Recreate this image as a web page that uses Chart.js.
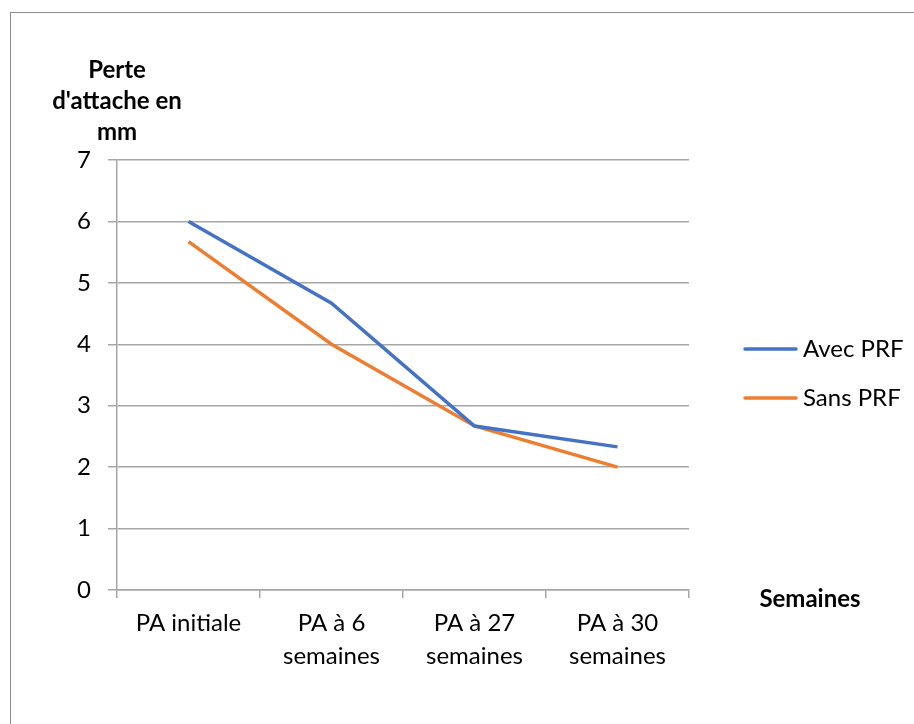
<!DOCTYPE html>
<html>
<head>
<meta charset="utf-8">
<script src="https://cdn.jsdelivr.net/npm/chart.js@4/dist/chart.umd.min.js"></script>
<style>
  html, body { margin: 0; background: #fff; }
  #frame { position: absolute; left: 10px; top: 12px; width: 904px; height: 712px;
           border-left: 1px solid #8c8c8c; border-top: 1px solid #8c8c8c; }
  #wrap { position: absolute; left: 0; top: 0; width: 914px; height: 724px; }
</style>
</head>
<body>
<div id="frame"></div>
<div id="wrap"><canvas id="graph" width="914" height="724"></canvas></div>
<script>
// Perte d'attache moyenne (mm)
const periodes = ["PA initiale", ["PA à 6", "semaines"], ["PA à 27", "semaines"], ["PA à 30", "semaines"]];
const avecPRF = [6, 4.67, 2.67, 2.33];
const sansPRF = [5.67, 4, 2.67, 2];
const seriesNames = ["Avec PRF", "Sans PRF"];
const seriesColors = ["#4472C4", "#ED7D31"];
const yTicks = [0, 1, 2, 3, 4, 5, 6, 7];
const yTitle = ["Perte", "d'attache en", "mm"];
const xTitle = "Semaines";

const FONT = "Lato, 'Open Sans', sans-serif";
const GRID = "#a6a6a6";

// titres des axes + légende à droite
const extras = {
  id: "extras",
  afterDraw(chart) {
    const ctx = chart.ctx;
    const { left, top, bottom } = chart.chartArea;
    ctx.save();
    ctx.fillStyle = "#000";
    ctx.textAlign = "center";
    ctx.textBaseline = "alphabetic";
    ctx.font = "bold 24px " + FONT;
    yTitle.forEach((t, i) => ctx.fillText(t, left, top - 82 + i * 31));
    ctx.fillText(xTitle, 810, bottom + 17);

    ctx.font = "24px " + FONT;
    ctx.textAlign = "left";
    ctx.textBaseline = "middle";
    chart.data.datasets.forEach((ds, i) => {
      const y = 349 + i * 49;
      ctx.strokeStyle = ds.borderColor;
      ctx.lineWidth = ds.borderWidth;
      ctx.lineCap = "round";
      ctx.beginPath();
      ctx.moveTo(745, y);
      ctx.lineTo(796, y);
      ctx.stroke();
      ctx.fillText(ds.label, 803, y);
    });
    ctx.restore();
  }
};

new Chart(document.getElementById("graph"), {
  type: "line",
  data: {
    labels: periodes,
    datasets: [
      { label: seriesNames[0], data: avecPRF, borderColor: seriesColors[0], borderWidth: 3.5, pointRadius: 0, tension: 0 },
      { label: seriesNames[1], data: sansPRF, borderColor: seriesColors[1], borderWidth: 3.5, pointRadius: 0, tension: 0 }
    ]
  },
  options: {
    responsive: false,
    animation: false,
    layout: { padding: { top: 160, right: 225, left: 0, bottom: 0 } },
    plugins: { legend: { display: false }, tooltip: { enabled: false } },
    scales: {
      x: {
        offset: true,
        grid: { offset: true, drawOnChartArea: false, color: GRID, lineWidth: 1.5, tickLength: 8 },
        border: { color: GRID, width: 1.5 },
        ticks: { color: "#000", font: { family: FONT, size: 24, lineHeight: 1.4 }, maxRotation: 0, autoSkip: false, padding: 8 },
        afterFit(scale) { scale.height = 134; }
      },
      y: {
        min: yTicks[0],
        max: yTicks[yTicks.length - 1],
        afterBuildTicks(scale) { scale.ticks = yTicks.map(v => ({ value: v })); },
        grid: { color: GRID, lineWidth: 1.5, tickLength: 9 },
        border: { color: GRID, width: 1.5 },
        ticks: { color: "#000", font: { family: FONT, size: 24 }, padding: 17 },
        afterFit(scale) { scale.width = 117; }
      }
    }
  },
  plugins: [extras]
});
</script>
</body>
</html>
